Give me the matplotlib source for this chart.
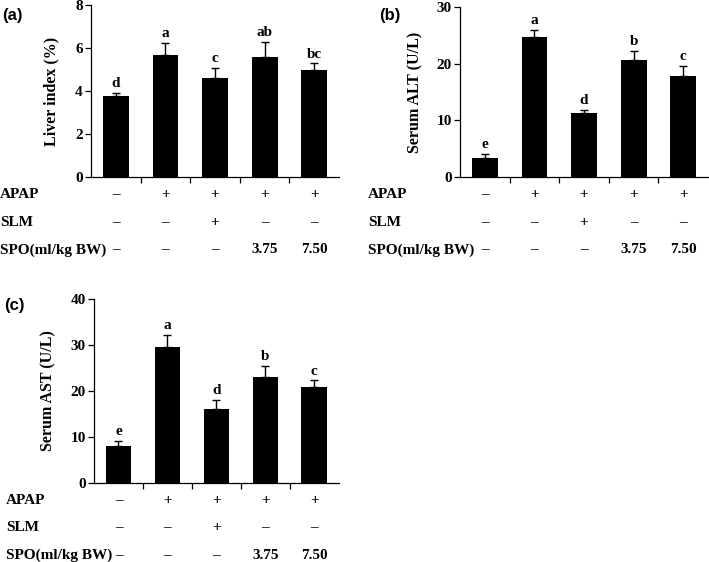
import numpy as np
import matplotlib.pyplot as plt

# groups (x positions = index)
apap = ["–", "+", "+", "+", "+"]
slm = ["–", "–", "+", "–", "–"]
spo = ["–", "–", "–", "3.75", "7.50"]

liver = [3.75, 5.68, 4.62, 5.57, 4.96]
liver_err = [0.15, 0.55, 0.44, 0.72, 0.33]
liver_sig = ["d", "a", "c", "ab", "bc"]

alt = [3.3, 24.8, 11.3, 20.7, 17.8]
alt_err = [0.75, 1.2, 0.5, 1.6, 1.9]
alt_sig = ["e", "a", "d", "b", "c"]

ast = [8.1, 29.7, 16.0, 23.0, 20.9]
ast_err = [1.1, 2.6, 2.1, 2.5, 1.4]
ast_sig = ["e", "a", "d", "b", "c"]

serif = "Liberation Serif"
sans = "Liberation Sans"
H = 562.0


def panel(fig, rect, vals, errs, sig, ymax, ystep, ylabel, letter, lab_x, letter_pos, ylab_x):
    ax = fig.add_axes(rect)
    x = np.arange(len(vals))
    ax.bar(x, vals, width=0.52, color="black", zorder=2)
    ax.errorbar(x, vals, yerr=[np.zeros(len(errs)), errs], fmt="none",
                ecolor="black", elinewidth=1.0, capsize=3, capthick=1.0, zorder=1)
    for xi, v, e, s in zip(x, vals, errs, sig):
        ax.annotate(s, (xi, v + e), xytext=(0, 2), textcoords="offset points",
                    ha="center", va="bottom", fontsize=11, fontweight="bold", family=serif)
    ax.set_xlim(-0.5, 4.5)
    ax.set_ylim(0, ymax)
    ax.set_yticks(np.arange(0, ymax + 0.1, ystep))
    ax.set_xticks([0.5, 1.5, 2.5, 3.5])
    ax.set_xticklabels([])
    ax.tick_params(axis="x", direction="out", length=4, width=0.9)
    ax.tick_params(axis="y", direction="out", length=4, width=0.9, labelsize=11, pad=2)
    for t in ax.get_yticklabels():
        t.set_family(serif)
        t.set_fontweight("bold")
    for sp in ["top", "right"]:
        ax.spines[sp].set_visible(False)
    for sp in ["left", "bottom"]:
        ax.spines[sp].set_linewidth(0.9)
    fig.text(ylab_x, rect[1] + rect[3] / 2, ylabel, rotation=90, ha="center", va="center",
             fontsize=11.5, fontweight="bold", family=serif)
    fig.text(letter_pos[0], letter_pos[1], letter, ha="left", va="center",
             fontsize=12, fontweight="bold", family=sans)
    # treatment rows below the axis (offsets in pixels)
    names = ["APAP", "SLM", "SPO(ml/kg BW)"]
    rows = [apap, slm, spo]
    ax_px = rect[3] * H
    for i, (name, row) in enumerate(zip(names, rows)):
        yy = -(17.5 + 27.7 * i) / ax_px
        ax.text(lab_x, yy, name, transform=ax.transAxes, ha="left", va="center",
                fontsize=11, fontweight="bold", family=serif)
        for xi, s in enumerate(row):
            ax.text(xi, yy, s, transform=ax.get_xaxis_transform(), ha="center", va="center",
                    fontsize=11, fontweight="bold", family=serif, clip_on=False)
    return ax


fig = plt.figure(figsize=(7.09, 5.62), dpi=100)

panel(fig, [0.1283, 0.685, 0.350, 0.306], liver, liver_err, liver_sig, 8, 2,
      "Liver index (%)", "(a)", -0.367, (0.003, 0.972), 0.072)
panel(fig, [0.6488, 0.685, 0.3498, 0.302], alt, alt_err, alt_sig, 30, 10,
      "Serum ALT (U/L)", "(b)", -0.37, (0.535, 0.972), 0.586)
panel(fig, [0.1326, 0.1411, 0.345, 0.3263], ast, ast_err, ast_sig, 40, 10,
      "Serum AST (U/L)", "(c)", -0.36, (0.006, 0.457), 0.068)

fig.savefig("out.png", dpi=100)
